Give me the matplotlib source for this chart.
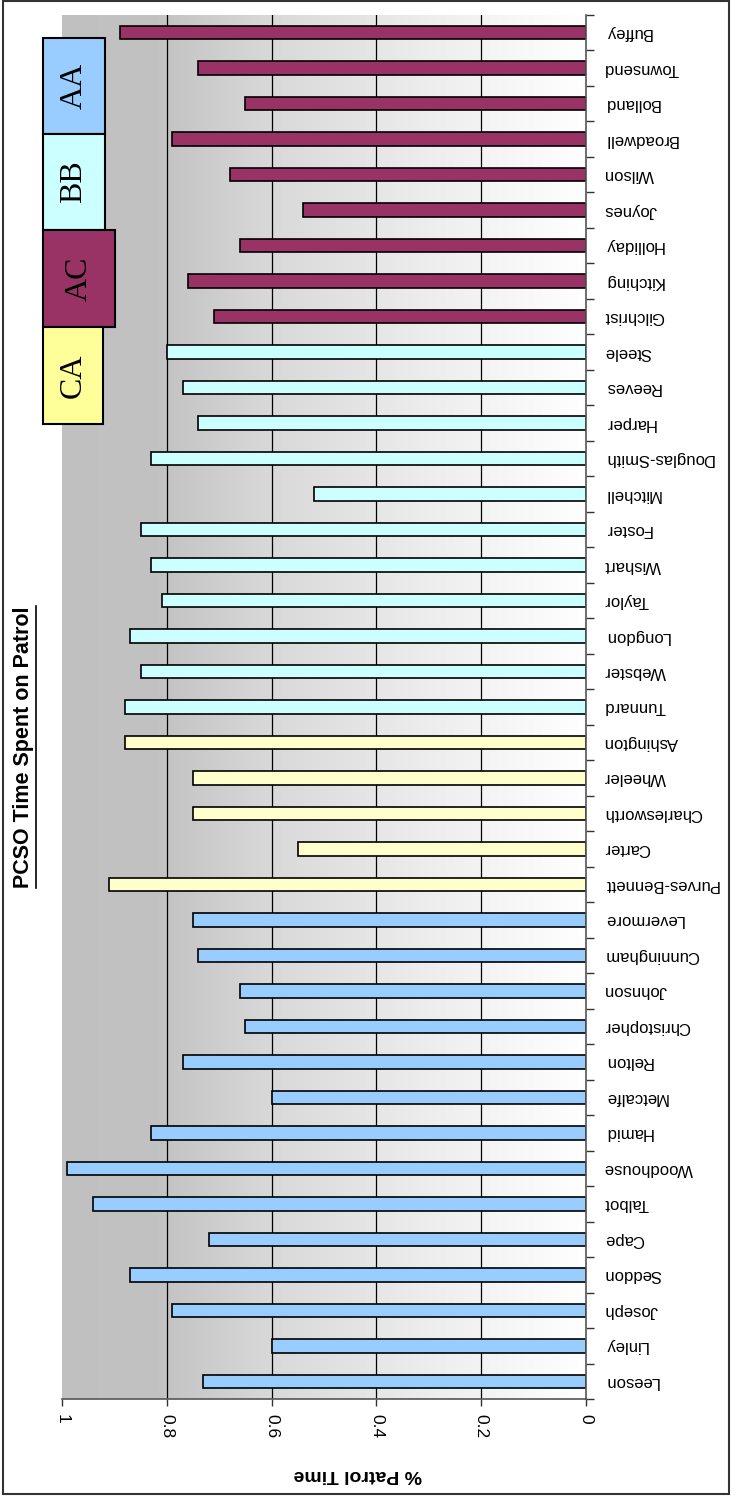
import matplotlib

matplotlib.use("Agg")

import matplotlib.pyplot as plt
import numpy as np
from matplotlib.lines import Line2D
from matplotlib.patches import Rectangle
from matplotlib.ticker import FixedLocator

plt.rcParams["font.family"] = ["Liberation Sans", "DejaVu Sans"]

# officers, bottom to top
names = [
    "Leeson", "Linley", "Joseph", "Seddon", "Cape", "Talbot", "Woodhouse",
    "Hamid", "Metcalfe", "Relton", "Christopher", "Johnson", "Cunningham",
    "Levermore",
    "Purves-Bennett", "Carter", "Charlesworth", "Wheeler", "Ashington",
    "Tunnard", "Webster", "Longdon", "Taylor", "Wishart", "Foster",
    "Mitchell", "Douglas-Smith", "Harper", "Reeves", "Steele",
    "Gilchrist", "Kitching", "Holliday", "Joynes", "Wilson", "Broadwell",
    "Bolland", "Townsend", "Buffey",
]
patrol = [
    0.73, 0.60, 0.79, 0.87, 0.72, 0.94, 0.99, 0.83, 0.60, 0.77, 0.65, 0.66,
    0.74, 0.75,
    0.91, 0.55, 0.75, 0.75, 0.88,
    0.88, 0.85, 0.87, 0.81, 0.83, 0.85, 0.52, 0.83, 0.74, 0.77, 0.80,
    0.71, 0.76, 0.66, 0.54, 0.68, 0.79, 0.65, 0.74, 0.89,
]
teams = ["AA"] * 14 + ["CA"] * 5 + ["BB"] * 11 + ["AC"] * 9

bar_colors = {"AA": "#99ccff", "CA": "#ffffcc", "BB": "#ccffff", "AC": "#993366"}
key_colors = {"AA": "#99ccff", "BB": "#ccffff", "AC": "#993366", "CA": "#ffff99"}
value_ticks = [0, 0.2, 0.4, 0.6, 0.8, 1]
tick_text = ["0", "0.2", "0.4", "0.6", "0.8", "1"]

W, H = 735, 1499
fig = plt.figure(figsize=(W / 100, H / 100), dpi=100)


def px(x0, y0, x1, y1):
    # pixel box (top-left origin) -> figure fraction rect
    return [x0 / W, 1 - y1 / H, (x1 - x0) / W, (y1 - y0) / H]


ax = fig.add_axes(px(62, 15, 586, 1399))
ax.set_xlim(1, 0)
ax.set_ylim(-0.5, len(names) - 0.5)

# grey-to-white backdrop across the value range
v = np.linspace(0, 1, 400)
shade = np.interp(v, [0, 0.3, 0.6, 0.82, 1], [1.0, 0.93, 0.85, 0.76, 0.755])
ax.imshow(np.tile(shade, (2, 1))[..., None].repeat(3, axis=2),
          extent=(0, 1, -0.5, len(names) - 0.5), aspect="auto",
          interpolation="bilinear", zorder=0)

for gx in [0.2, 0.4, 0.6, 0.8]:
    ax.axvline(gx, color="black", lw=0.9, zorder=1)

ypos = np.arange(len(names))
ax.barh(ypos, patrol, height=0.38, color=[bar_colors[t] for t in teams],
        edgecolor="black", linewidth=1.2, zorder=2)

for side in ["left", "top"]:
    ax.spines[side].set_visible(False)
for side in ["bottom", "right"]:
    ax.spines[side].set_color("#555555")
    ax.spines[side].set_linewidth(1.2)

ax.set_xticks(value_ticks)
ax.set_xticklabels(tick_text, rotation=270, fontsize=12.5)
ax.tick_params(axis="x", direction="out", length=5, width=1, color="#333333", pad=6)

ax.yaxis.tick_right()
ax.set_yticks(ypos)
ax.set_yticklabels(names, rotation=180, fontsize=12, ha="left", va="center")
ax.yaxis.set_minor_locator(FixedLocator(np.arange(-0.5, len(names), 1)))
ax.tick_params(axis="y", which="major", length=0, pad=13)
ax.tick_params(axis="y", which="minor", direction="out", length=6, width=1, color="#333333")

fig.text(358 / W, 1 - 1474 / H, "% Patrol Time", rotation=180, fontsize=14,
         fontweight="bold", ha="center", va="center")

title = fig.text(24 / W, 1 - 747 / H, "PCSO Time Spent on Patrol", rotation=90,
                 fontsize=15.5, fontweight="bold", ha="center", va="center")

# team key boxes
key_boxes = [("AA", 43, 38, 105, 134), ("BB", 43, 134, 105, 230),
             ("AC", 43, 230, 115, 327), ("CA", 43, 327, 103, 424)]
for label, x0, y0, x1, y1 in key_boxes:
    r = px(x0, y0, x1, y1)
    fig.patches.append(Rectangle((r[0], r[1]), r[2], r[3], transform=fig.transFigure,
                                 facecolor=key_colors[label], edgecolor="black",
                                 lw=1.5, zorder=5))
    fig.text((x0 + x1) / 2 / W, 1 - (y0 + y1) / 2 / H, label, rotation=90,
             family=["Liberation Serif", "DejaVu Serif"], fontsize=23,
             ha="center", va="center", zorder=6)

# outer frame
fr = px(3, 1, 729, 1494)
fig.patches.append(Rectangle((fr[0], fr[1]), fr[2], fr[3], transform=fig.transFigure,
                             fill=False, edgecolor="#333333", lw=1.5))

# underline the title
fig.canvas.draw()
bb = title.get_window_extent().transformed(fig.transFigure.inverted())
ux = bb.x1 + 1.5 / W
fig.lines.append(Line2D([ux, ux], [bb.y0, bb.y1], transform=fig.transFigure,
                        color="black", lw=1.2))

fig.savefig("out.png", dpi=100)
plt.close(fig)
